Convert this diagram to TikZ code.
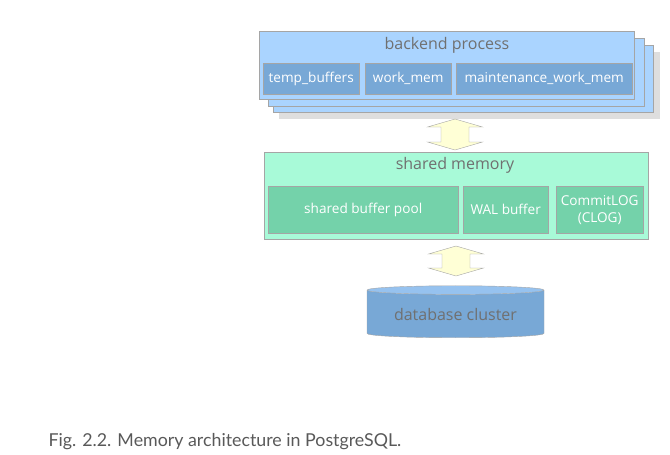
\documentclass[tikz,border=0pt]{standalone}
\usepackage{fontspec}
\setmainfont{Open Sans}
\newfontfamily\capfont{Lato}
\usetikzlibrary{shapes.geometric}
\definecolor{procblue}{RGB}{170,212,255}
\definecolor{bufblue}{RGB}{120,168,214}
\definecolor{shmgreen}{RGB}{168,250,216}
\definecolor{bufgreen}{RGB}{116,210,170}
\definecolor{arrowyel}{RGB}{255,255,214}
\definecolor{edgegray}{RGB}{165,165,165}
\definecolor{textgray}{RGB}{112,112,112}

\begin{document}
\begin{tikzpicture}[x = 1pt , y = -1pt ,
    outerbox/.style = {draw = edgegray , anchor = north west , inner sep = 0pt},
    innerbox/.style = {draw = edgegray , anchor = north west , inner sep = 0pt , text = white , align = center , font = \fontsize{13.6}{17}\selectfont},
    boxtitle/.style = {text = textgray , font = \fontsize{16}{19}\selectfont},
    updown/.style = {draw = edgegray , fill = arrowyel , line join = miter}]
    \useasboundingbox (0,0) rectangle (670,455);

    % backend process (stacked)
    \fill[black!13] (279,52) rectangle (660,119); % shadow
    \draw[edgegray , fill = procblue] (273,45) rectangle (653,112);
    \draw[edgegray , fill = procblue] (268,38) rectangle (644,106);
    \node[outerbox , fill = procblue , minimum width = 375pt , minimum height = 68pt] (backend) at (259,31) {};
    \node[boxtitle] (backendtitle) at (447,45) {backend process};
    \node[innerbox , fill = bufblue , minimum width = 96pt , minimum height = 31pt] (tempbuf) at (263,63) {temp\_buffers};
    \node[innerbox , fill = bufblue , minimum width = 86pt , minimum height = 31pt] (workmem) at (365,63) {work\_mem};
    \node[innerbox , fill = bufblue , minimum width = 176pt , minimum height = 31pt] (maintmem) at (456,63) {maintenance\_work\_mem};

    % double arrow
    \coordinate (arrowtop) at (455,119);
    \draw[updown] (arrowtop) -- ++(27.5,8) -- ++(-13.5,0) -- ++(0,15) -- ++(13.5,0) -- ++(-27.5,8)
        -- ++(-27.5,-8) -- ++(13.5,0) -- ++(0,-15) -- ++(-13.5,0) -- cycle;

    % shared memory
    \node[outerbox , fill = shmgreen , minimum width = 384pt , minimum height = 87pt] (shmem) at (264,152) {};
    \node[boxtitle] (shmemtitle) at (455,165) {shared memory};
    \node[innerbox , fill = bufgreen , minimum width = 190pt , minimum height = 47pt] (bufpool) at (268,186) {shared buffer pool};
    \node[innerbox , fill = bufgreen , minimum width = 85pt , minimum height = 47pt] (walbuf) at (463,186) {WAL buffer};
    \node[innerbox , fill = bufgreen , minimum width = 87pt , minimum height = 47pt] (clog) at (556,186) {CommitLOG\\(CLOG)};

    % double arrow
    \coordinate (arrowbot) at (456,246);
    \draw[updown] (arrowbot) -- ++(27.5,8) -- ++(-13.5,0) -- ++(0,14) -- ++(13.5,0) -- ++(-27.5,8)
        -- ++(-27.5,-8) -- ++(13.5,0) -- ++(0,-14) -- ++(-13.5,0) -- cycle;

    % database cluster
    \node[cylinder , shape border rotate = 90 , draw = edgegray , cylinder uses custom fill , cylinder body fill = bufblue , cylinder end fill = procblue!60!bufblue , minimum width = 177pt , minimum height = 52pt , aspect = 0.07 , inner sep = 0pt , text = textgray , font = \fontsize{16}{19}\selectfont] (dbcluster) at (455.5,314) {database cluster};

    \node[anchor = base west , text = black!65 , font = \capfont\fontsize{17.8}{21}\selectfont] (caption) at (45,446) {Fig. 2.2. Memory architecture in PostgreSQL.};
\end{tikzpicture}
\end{document}
